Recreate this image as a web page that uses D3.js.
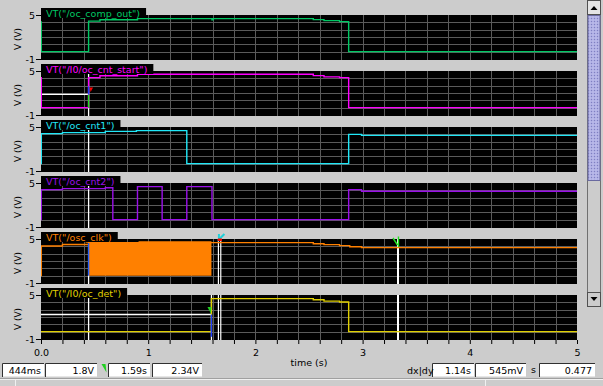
<!DOCTYPE html>
<html>
<head>
<meta charset="utf-8">
<script src="https://cdn.jsdelivr.net/npm/d3@7/dist/d3.min.js"></script>
<style>
    body { margin: 0; background: #cccccc; }
    svg { display: block; font-family: "DejaVu Sans", sans-serif; }
</style>
</head>
<body>
<div id="svg-container"></div>
<script>
// ---- data ----
var signalNames = ['VT("/oc_comp_out")', 'VT("/I0/oc_cnt_start")', 'VT("/oc_cnt1")',
                   'VT("/oc_cnt2")', 'VT("/osc_clk")', 'VT("/I0/oc_det")'];
var signalColors = ['#00c864', '#ff00ff', '#20e8f8', '#9a10e8', '#ff8000', '#e0d000'];

// step waveforms: value holds from t[i] to t[i+1]
var compOutT = [0, 0.003, 0.444, 0.55, 0.9, 1.595, 1.605, 2.54, 2.64, 2.785, 2.87, 5];
var compOutV = [4.05, 0, 4.17, 4.35, 4.5, 4.35, 4.5, 4.37, 4.23, 4.1, 0, 0];

var cntStartT = [0, 0.003, 0.444, 0.55, 0.9, 2.54, 2.64, 2.785, 2.87, 5];
var cntStartV = [4.1, 0, 4.1, 4.35, 4.55, 4.37, 4.2, 4.1, 0, 0];

var cnt1T = [0, 0.003, 0.2, 0.6, 0.89, 1.36, 2.87, 2.99, 5];
var cnt1V = [0, 4.1, 4.23, 4.4, 4.5, 0, 4.0, 3.86, 3.86];

var cnt2T = [0, 0.003, 0.2, 0.6, 0.67, 0.9, 1.13, 1.36, 1.595, 2.87, 2.99, 5];
var cnt2V = [0, 4.1, 4.23, 4.35, 0, 4.5, 0, 4.5, 0, 4.1, 3.88, 3.88];

var clkT = [0, 0.003, 0.2, 0.444, 1.59, 2.54, 2.64, 2.785, 2.88, 2.99, 5];
var clkV = [0, 4.05, 4.25, 4.5, 4.5, 4.36, 4.23, 4.09, 3.95, 3.82, 3.82];
// unresolved fast clock between these times: filled band from 0 V up to top
var clkBurstT = [0.444, 0.91, 1.59];
var clkBurstTop = [4.5, 4.68, 4.68];

var detT = [0, 1.59, 2.54, 2.64, 2.785, 2.87, 5];
var detV = [0, 4.5, 4.36, 4.17, 4.04, 0, 0];

// markers (time, value, panel) and vertical cursors
var markerT = [0.444, 1.59];
var markerV = [1.8, 2.34];
var markerPanel = [1, 5];
var cursorT = [1.655, 1.677, 3.33];

var timeTicks = [0, 1, 2, 3, 4, 5];
var timeTickLabels = ['0.0', '1', '2', '3', '4', '5'];
var yTickValues = [5, -1];

var statusTexts = ['444ms', '1.8V', '1.59s', '2.34V', '1.14s', '545mV', '0.477'];

;(function () {

    var width = 603
        , height = 386
        , left = 41
        , right = 577
        , panelTop0 = 15
        , panelStep = 56
        , panelH = 45
        , svg
        , x;

    var waves = [
        [compOutT, compOutV], [cntStartT, cntStartV], [cnt1T, cnt1V],
        [cnt2T, cnt2V], [clkT, clkV], [detT, detV]
    ];

    function zip(ts, vs) {
        return ts.map(function (t, i) { return [t, vs[i]]; });
    }

    function panelY(i) {
        var top = panelTop0 + i * panelStep;
        return d3.scaleLinear().domain([-1, 5]).range([top + 44, top]);
    }

    function drawPanel(i) {
        var top = panelTop0 + i * panelStep;
        var y = panelY(i);
        var g = svg.append('g').attr('class', 'panel');

        g.append('clipPath').attr('id', 'clip' + i)
            .append('rect').attr('x', left).attr('y', top)
            .attr('width', right - left).attr('height', panelH);

        g.append('rect')
            .attr('x', left).attr('y', top)
            .attr('width', right - left).attr('height', panelH)
            .attr('fill', '#000');

        // grid
        g.selectAll('.vgrid')
            .data(d3.range(1, 25).map(function (k) { return k * 0.2; }))
            .enter().append('line')
            .attr('x1', function (d) { return Math.round(x(d)) + 0.5; })
            .attr('x2', function (d) { return Math.round(x(d)) + 0.5; })
            .attr('y1', top).attr('y2', top + panelH)
            .attr('stroke', '#5a5a5a');
        g.selectAll('.hgrid')
            .data([0, 1, 2, 3, 4])
            .enter().append('line')
            .attr('x1', left).attr('x2', right)
            .attr('y1', function (d) { return Math.round(y(d)) + 0.5; })
            .attr('y2', function (d) { return Math.round(y(d)) + 0.5; })
            .attr('stroke', '#5a5a5a');

        var inner = g.append('g').attr('clip-path', 'url(#clip' + i + ')');

        // white marker / cursor lines under the traces
        if (i >= 1) {
            vline(inner, markerT[0], top, top + panelH, '#fff', 1.3);
        }
        if (i === 5) {
            vline(inner, markerT[1], top, top + panelH, '#fff', 1.3);
        }
        if (i >= 4) {
            cursorT.forEach(function (t, k) {
                vline(inner, t, top, top + panelH, '#fff', k === 2 ? 2 : 1.2);
            });
        }

        // horizontal marker lines
        markerT.forEach(function (t, k) {
            if (markerPanel[k] !== i) return;
            inner.append('line')
                .attr('x1', left).attr('x2', x(t))
                .attr('y1', y(markerV[k])).attr('y2', y(markerV[k]))
                .attr('stroke', '#fff').attr('stroke-width', 1.3);
        });

        if (i === 4) {
            var burst = zip(clkBurstT, clkBurstTop);
            inner.append('path')
                .datum(burst)
                .attr('fill', signalColors[i])
                .attr('d', d3.area()
                    .curve(d3.curveStepAfter)
                    .x(function (d) { return x(d[0]); })
                    .y0(y(0))
                    .y1(function (d) { return y(d[1]); }));
        }

        inner.append('path')
            .datum(zip(waves[i][0], waves[i][1]))
            .attr('fill', 'none')
            .attr('stroke', signalColors[i])
            .attr('stroke-width', 1.4)
            .attr('d', d3.line()
                .curve(d3.curveStepAfter)
                .x(function (d) { return x(d[0]); })
                .y(function (d) { return y(d[1]); }));

        // marker highlight on the crossed edges
        if (i === 1) {
            seg(inner, markerT[0], y(0), y(markerV[0]), '#20e020');
            seg(inner, markerT[0], y(markerV[0]), y(2.9), '#2040ff');
        }
        if (i === 4) {
            seg(inner, markerT[0], y(0), y(4.45), '#2060ff');
        }
        if (i === 5) {
            seg(inner, markerT[1], y(-0.7), y(markerV[1]), '#2040ff');
        }

        // title box
        var title = g.append('g');
        var txt = title.append('text')
            .attr('x', left + 5).attr('y', top + 2)
            .attr('font-size', '9.5px')
            .attr('fill', signalColors[i])
            .text(signalNames[i]);
        var tw = txt.node().getComputedTextLength();
        title.insert('rect', 'text')
            .attr('x', left).attr('y', top - 7)
            .attr('width', tw + 11).attr('height', 10)
            .attr('fill', '#000');

        // y labels
        yTickValues.forEach(function (v) {
            svg.append('text')
                .attr('x', 35).attr('y', y(v) + 3.5)
                .attr('text-anchor', 'end')
                .attr('font-size', '9.5px')
                .attr('fill', '#000')
                .text(v);
            svg.append('line')
                .attr('x1', 36).attr('x2', left)
                .attr('y1', Math.round(y(v)) + 0.5).attr('y2', Math.round(y(v)) + 0.5)
                .attr('stroke', '#000');
        });
        svg.append('text')
            .attr('transform', 'translate(21,' + (top + 24) + ') rotate(-90)')
            .attr('text-anchor', 'middle')
            .attr('font-size', '9px')
            .attr('fill', '#000')
            .text('V (V)');
    }

    function vline(g, t, y1, y2, color, w) {
        g.append('line')
            .attr('x1', x(t)).attr('x2', x(t))
            .attr('y1', y1).attr('y2', y2)
            .attr('stroke', color).attr('stroke-width', w);
    }

    function seg(g, t, y1, y2, color) {
        vline(g, t, y1, y2, color, 1.4);
    }

    function drawGlyphs() {
        // red flag on cnt_start marker
        var xa = x(markerT[0]);
        svg.append('path')
            .attr('d', 'M' + (xa + 1) + ',87.5 L' + (xa + 4.5) + ',87.5 L' + (xa + 2) + ',92 Z')
            .attr('fill', '#ff0000');
        // green flag on oc_det marker
        var xb = x(markerT[1]);
        svg.append('path')
            .attr('d', 'M' + (xb - 4) + ',307 L' + xb + ',307 L' + (xb - 0.5) + ',313.5 Z')
            .attr('fill', '#20d020');

        // cursor glyphs above the clock panel
        var xc = x(cursorT[0]);
        svg.append('path')
            .attr('d', 'M' + (xc + 0.5) + ',234 L' + (xc + 0.5) + ',239.5 L' + (xc + 6) + ',234')
            .attr('fill', 'none').attr('stroke', '#20d0d8').attr('stroke-width', 2);
        svg.append('rect')
            .attr('x', xc - 0.5).attr('y', 238.5).attr('width', 4).attr('height', 2.5)
            .attr('fill', '#ff0000');
        var xd = x(cursorT[2]);
        svg.append('path')
            .attr('d', 'M' + (xd - 5) + ',238 L' + (xd - 0.5) + ',245 M' + (xd + 0.5) + ',236.5 L' + (xd + 0.5) + ',247')
            .attr('fill', 'none').attr('stroke', '#20e020').attr('stroke-width', 1.4);
    }

    function drawAxis() {
        var bottom = panelTop0 + 5 * panelStep + panelH;
        var axis = d3.axisBottom(x)
            .tickValues(d3.range(0, 26).map(function (k) { return k * 0.2; }))
            .tickSize(4)
            .tickFormat(function (d) {
                var idx = timeTicks.indexOf(Math.round(d * 10) / 10);
                return idx >= 0 ? timeTickLabels[idx] : '';
            });
        var ga = svg.append('g')
            .attr('transform', 'translate(0,' + bottom + ')')
            .call(axis);
        ga.select('.domain').remove();
        ga.selectAll('line').attr('stroke', '#000');
        ga.selectAll('text')
            .attr('y', 16).attr('dy', 0)
            .attr('font-size', '9.5px')
            .attr('font-family', '"DejaVu Sans", sans-serif')
            .attr('fill', '#000');

        svg.append('text')
            .attr('x', (left + right) / 2).attr('y', 366)
            .attr('text-anchor', 'middle')
            .attr('font-size', '9.5px')
            .attr('fill', '#000')
            .text('time (s)');
    }

    function drawStatusBar() {
        var boxes = [[2, 42], [45, 52], [108, 42], [152, 50], [432, 42], [475, 51], [539, 56]];
        boxes.forEach(function (b, i) {
            svg.append('rect')
                .attr('x', b[0]).attr('y', 363.5)
                .attr('width', b[1]).attr('height', 13)
                .attr('fill', '#fff');
            svg.append('path')
                .attr('d', 'M' + (b[0] + 0.5) + ',377 L' + (b[0] + 0.5) + ',363.5 L' + (b[0] + b[1]) + ',363.5')
                .attr('fill', 'none').attr('stroke', '#303030');
            svg.append('text')
                .attr('x', b[0] + b[1] - 3).attr('y', 374)
                .attr('text-anchor', 'end')
                .attr('font-size', '9.5px')
                .attr('fill', '#000')
                .text(statusTexts[i]);
        });
        svg.append('text').attr('x', 407).attr('y', 373.5)
            .attr('font-size', '9.5px').attr('fill', '#000').text('dx|dy');
        svg.append('text').attr('x', 531).attr('y', 373)
            .attr('font-size', '9.5px').attr('fill', '#000').text('s');
        svg.append('path')
            .attr('d', 'M101.5,364 L105.5,364 L106.5,372.5 Z')
            .attr('fill', '#20d020');

        svg.append('line').attr('x1', 0).attr('x2', width)
            .attr('y1', 378.5).attr('y2', 378.5).attr('stroke', '#a0a0a0');
        svg.append('line').attr('x1', 0).attr('x2', width)
            .attr('y1', 379.5).attr('y2', 379.5).attr('stroke', '#f0f0f0');
        [15.5, 485.5].forEach(function (sx) {
            svg.append('line').attr('x1', sx).attr('x2', sx)
                .attr('y1', 380).attr('y2', height).attr('stroke', '#f0f0f0');
        });
    }

    function drawScrollbar() {
        var defs = svg.append('defs');
        var pat = defs.append('pattern').attr('id', 'thumbPat')
            .attr('width', 3).attr('height', 3).attr('patternUnits', 'userSpaceOnUse');
        pat.append('rect').attr('width', 3).attr('height', 3).attr('fill', '#aeaee4');
        pat.append('rect').attr('width', 1).attr('height', 1).attr('fill', '#8080c0');
        pat.append('rect').attr('x', 1.5).attr('y', 1.5).attr('width', 1).attr('height', 1).attr('fill', '#d8d8f4');

        svg.append('rect').attr('x', 587.5).attr('y', 0.5).attr('width', 13).attr('height', 306)
            .attr('fill', '#cccccc').attr('stroke', '#707070');
        // up button
        svg.append('rect').attr('x', 587.5).attr('y', 0.5).attr('width', 13).attr('height', 14)
            .attr('fill', '#e4e4e4').attr('stroke', '#505050');
        svg.append('path').attr('d', 'M590.5,10 L597.5,10 L594,6 Z').attr('fill', '#000');
        // thumb
        svg.append('rect').attr('x', 588).attr('y', 15.5).attr('width', 12).attr('height', 165)
            .attr('fill', 'url(#thumbPat)').attr('stroke', '#6a6aa0');
        // down button
        svg.append('rect').attr('x', 587.5).attr('y', 292.5).attr('width', 13).attr('height', 14)
            .attr('fill', '#cccccc').attr('stroke', '#505050');
        svg.append('path').attr('d', 'M590.5,297 L597.5,297 L594,301 Z').attr('fill', '#000');
    }

    function initialize() {
        svg = d3.select('#svg-container').append('svg')
            .attr('width', width)
            .attr('height', height);

        svg.append('rect').attr('width', width).attr('height', height).attr('fill', '#cccccc');

        x = d3.scaleLinear().domain([0, 5]).range([left, right]);

        for (var i = 0; i < signalNames.length; i++) {
            drawPanel(i);
        }
        drawGlyphs();
        drawAxis();
        drawStatusBar();
        drawScrollbar();
    }

    initialize();

}());
</script>
</body>
</html>
